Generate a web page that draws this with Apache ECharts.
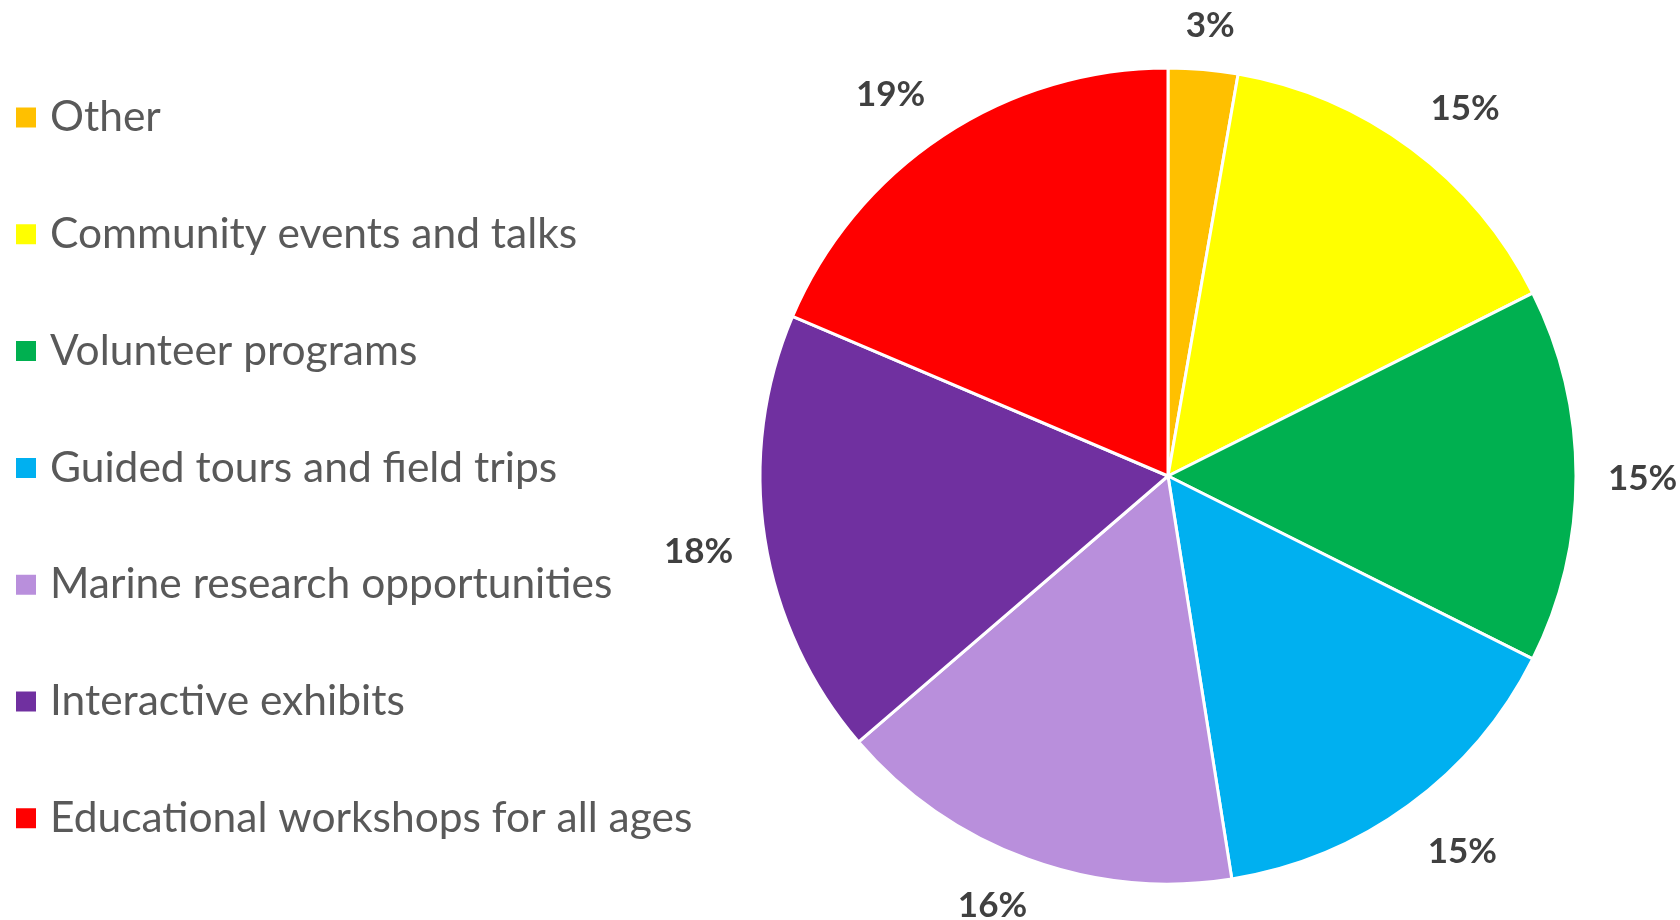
<!DOCTYPE html>
<html>
<head>
<meta charset="utf-8">
<script src="https://cdn.jsdelivr.net/npm/echarts@6/dist/echarts.min.js"></script>
<style>
html,body{margin:0;padding:0;background:#fff;}
#chart{width:1680px;height:920px;}
</style>
</head>
<body>
<div id="chart"></div>
<script>
const categories = [
  "Other",
  "Community events and talks",
  "Volunteer programs",
  "Guided tours and field trips",
  "Marine research opportunities",
  "Interactive exhibits",
  "Educational workshops for all ages"
];
const values = [2.75, 14.85, 14.8, 15.1, 16.2, 17.7, 18.6];
const percentLabels = ["3%", "15%", "15%", "15%", "16%", "18%", "19%"];
const colors = ["#FFC000", "#FFFF00", "#00B050", "#00B0F0", "#B98FDC", "#7030A0", "#FF0000"];

const chart = echarts.init(document.getElementById('chart'));
const FONT = 'Lato';
const center = [1168, 476];
const R = 408;
const LABEL_GAP = 32;
const pieData = categories.map((c, i) => ({ name: c, value: values[i], itemStyle: { color: colors[i] } }));
const labelData = categories.map((c, i) => ({ name: c, value: values[i] }));

chart.setOption({
  animation: false,
  backgroundColor: '#ffffff',
  legend: {
    orient: 'vertical',
    left: 14,
    top: 96,
    padding: 0,
    data: categories,
    icon: 'rect',
    itemWidth: 22,
    itemHeight: 22,
    itemGap: 73.8,
    selectedMode: false,
    textStyle: { fontFamily: FONT, fontSize: 42.5, color: '#595959', lineHeight: 40, padding: [0, 0, 0, 8] }
  },
  series: [
    {
      type: 'pie',
      center: center,
      radius: [0, R],
      startAngle: 90,
      clockwise: true,
      data: pieData,
      label: { show: false },
      labelLine: { show: false },
      itemStyle: { borderColor: '#ffffff', borderWidth: 3 },
      emphasis: { disabled: true }
    },
    {
      type: 'pie',
      center: center,
      radius: [R, R + 130],
      startAngle: 90,
      clockwise: true,
      silent: true,
      data: labelData,
      itemStyle: { color: 'rgba(0,0,0,0)', borderWidth: 0 },
      label: {
        show: true,
        position: 'inside',
        formatter: p => percentLabels[p.dataIndex],
        fontFamily: FONT,
        fontWeight: 'bold',
        fontSize: 35,
        color: '#404040'
      },
      labelLine: { show: false },
      labelLayout: function (params) {
        const r = params.labelRect;
        const lx = r.x + r.width / 2;
        const ly = r.y + r.height / 2;
        const dx = lx - center[0], dy = ly - center[1];
        const d = Math.hypot(dx, dy) || 1;
        const ux = dx / d, uy = dy / d;
        const k = v => Math.max(-1, Math.min(1, v * 2));
        const x = center[0] + ux * (R + LABEL_GAP) + r.width / 2 * k(ux);
        let y = center[1] + uy * (R + LABEL_GAP) + r.height / 2 * k(uy) + 3;
        y = Math.max(26, Math.min(906, y));
        return { x: x, y: y, align: 'center', verticalAlign: 'middle' };
      },
      emphasis: { disabled: true }
    }
  ]
});
</script>
</body>
</html>
